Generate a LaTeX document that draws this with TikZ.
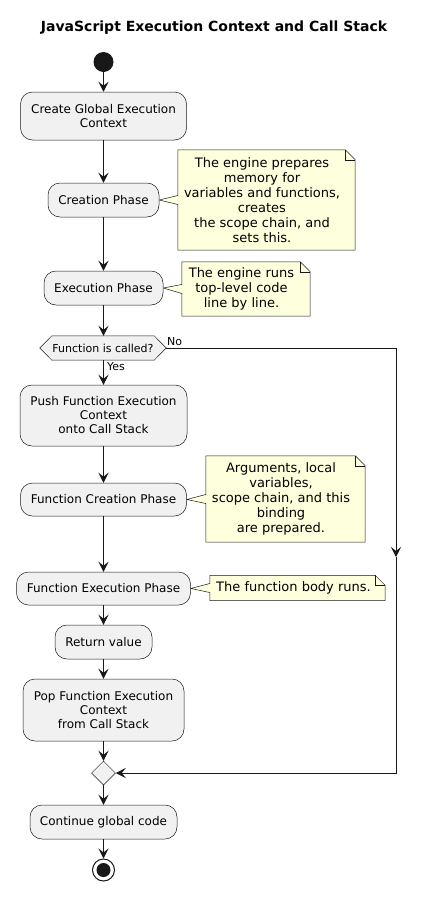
\documentclass[tikz,border=0pt]{standalone}
\usepackage{fontspec}
\setmainfont{DejaVu Sans}
\usetikzlibrary{arrows.meta,calc,backgrounds,shapes.geometric}
\definecolor{ln}{HTML}{181818}
\definecolor{boxfill}{HTML}{F1F1F1}
\definecolor{notefill}{HTML}{FEFFDD}
\tikzset{
  act/.style={draw=ln, line width=0.5pt, fill=boxfill, rounded corners=12pt, align=center,
    font=\fontsize{12}{14}\selectfont, inner sep=0pt},
  notebody/.style={inner sep=0pt},
  notetext/.style={align=center, font=\fontsize{13}{15}\selectfont, inner sep=0pt},
  noteshape/.style={draw=ln, line width=0.5pt, fill=notefill},
  conn/.style={draw=ln, line width=1pt, -{Stealth[length=10pt,width=10pt,inset=4pt]}},
  lbl/.style={font=\fontsize{11}{13}\selectfont, inner sep=0pt, anchor=west}
}
\newcommand\drawnote[2]{%
  \begin{scope}[on background layer]
  \path[noteshape] (#1.south west) -- ($(#1.west)+(0,-4.5pt)$) -- (#2.east) -- ($(#1.west)+(0,4.5pt)$)
    -- (#1.north west) -- ($(#1.north east)+(-10pt,0)$) -- ($(#1.north east)+(0,-10pt)$)
    -- (#1.south east) -- cycle;
  \draw[ln, line width=0.5pt] ($(#1.north east)+(-10pt,0)$) |- ($(#1.north east)+(0,-10pt)$);
  \end{scope}}
\begin{document}
\begin{tikzpicture}[x=1pt,y=-1pt]
\useasboundingbox (0,0) rectangle (429,900);
\begin{scope}[on background layer]
\fill[white] (0,0) rectangle (429,900);
\end{scope}
\node[font=\fontsize{14}{16}\selectfont\bfseries] (title) at (214,28) {JavaScript Execution Context and Call Stack};
\node[circle, fill=ln, minimum size=20pt, inner sep=0pt] (start) at (103.5,62) {};
\node[act, minimum width=166pt, minimum height=48pt] (glob) at (103.5,116) {Create Global Execution\\Context};
\node[act, minimum width=111pt, minimum height=34pt] (crea) at (103.5,200) {Creation Phase};
\node[notebody, minimum width=177pt, minimum height=100pt] (n1) at (266.5,200) {};
\node[notetext] (n1t) at ($(n1)+(-4.5pt,0)$) {The engine prepares\\memory for\\variables and functions,\\creates\\the scope chain, and\\sets this.};
\node[act, minimum width=119pt, minimum height=34pt] (exec) at (103.5,288) {Execution Phase};
\node[notebody, minimum width=128pt, minimum height=54pt] (n2) at (246,289) {};
\node[notetext] (n2t) at ($(n2)+(-4.5pt,0)$) {The engine runs\\top-level code\\line by line.};
\node[font=\fontsize{11}{13}\selectfont, minimum width=126pt, minimum height=24pt, inner sep=0pt] (hex) at (103,348) {};
\filldraw[draw=ln, line width=0.5pt, fill=boxfill] (hex.west) -- ($(hex.north west)+(12pt,0)$) -- ($(hex.north east)+(-12pt,0)$) -- (hex.east) -- ($(hex.south east)+(-12pt,0)$) -- ($(hex.south west)+(12pt,0)$) -- cycle;
\node[font=\fontsize{11}{13}\selectfont, inner sep=0pt] (hext) at (hex) {Function is called?};
\node[act, minimum width=167pt, minimum height=61pt] (push) at (103.5,415.5) {Push Function Execution\\Context\\onto Call Stack};
\node[act, minimum width=166pt, minimum height=33pt] (fcrea) at (103.5,499.5) {Function Creation Phase};
\node[notebody, minimum width=159pt, minimum height=86pt] (n3) at (285.5,499) {};
\node[notetext] (n3t) at ($(n3)+(-4.5pt,0)$) {Arguments, local\\variables,\\scope chain, and this\\binding\\are prepared.};
\node[act, minimum width=174pt, minimum height=33pt] (fexec) at (103.5,588.5) {Function Execution Phase};
\node[notebody, minimum width=175pt, minimum height=25pt] (n4) at (297.5,588) {};
\node[notetext] (n4t) at ($(n4)+(-4pt,0)$) {The function body runs.};
\node[act, minimum width=97pt, minimum height=34pt] (ret) at (103.5,642) {Return value};
\node[act, minimum width=161pt, minimum height=62pt] (pop) at (103.5,710) {Pop Function Execution\\Context\\from Call Stack};
\node[diamond, draw=ln, line width=0.5pt, fill=boxfill, minimum size=24pt, inner sep=0pt] (merge) at (103.5,773) {};
\node[act, minimum width=147pt, minimum height=34pt] (cont) at (103.5,822) {Continue global code};
\node[circle, draw=ln, line width=1pt, fill=white, minimum size=22pt, inner sep=0pt] (stop) at (103.5,870) {};
\node[circle, fill=ln, minimum size=14pt, inner sep=0pt] (stopin) at (stop) {};
\drawnote{n1}{crea}
\drawnote{n2}{exec}
\drawnote{n3}{fcrea}
\drawnote{n4}{fexec}
\coordinate (nodown) at (396,557);
\draw[conn] (start) -- (glob);
\draw[conn] (glob) -- (crea);
\draw[conn] (crea) -- (exec);
\draw[conn] (exec) -- (exec |- hex.north);
\draw[conn] (hex.south -| push) -- (push);
\draw[conn] (push) -- (fcrea);
\draw[conn] (fcrea) -- (fexec);
\draw[conn] (fexec) -- (ret);
\draw[conn] (ret) -- (pop);
\draw[conn] (pop) -- (merge);
\draw[conn] (merge) -- (cont);
\draw[conn] (cont) -- (stop);
\draw[conn] (hex.east) -| (nodown);
\draw[conn] (nodown) |- (merge.east);
\node[lbl] (yes) at (107,367) {Yes};
\node[lbl] (no) at (167,342) {No};
\end{tikzpicture}
\end{document}
